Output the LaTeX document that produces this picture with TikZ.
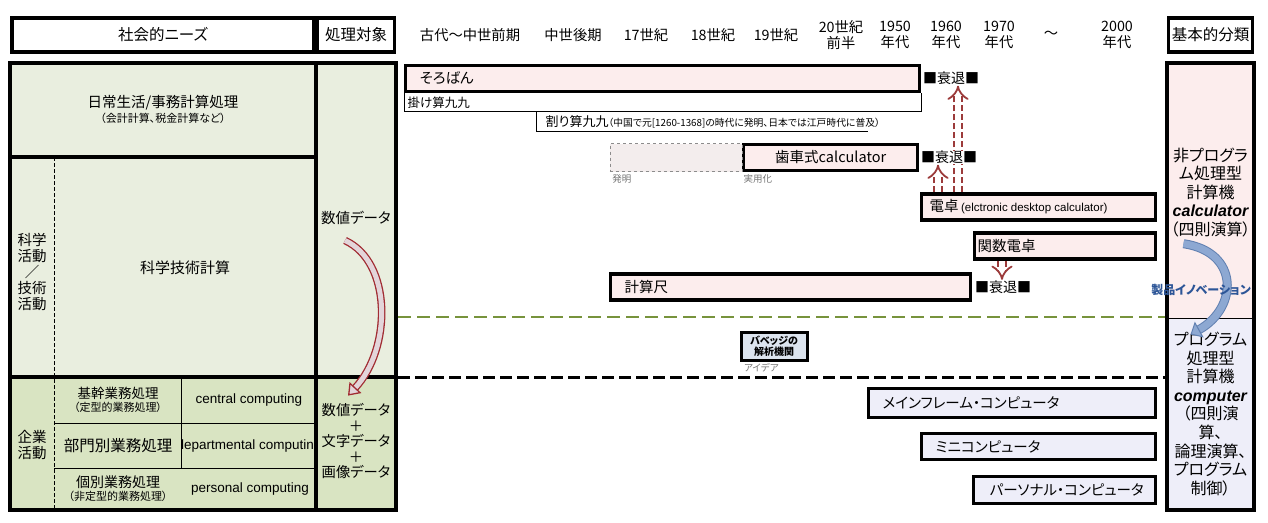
\documentclass[tikz,border=0pt]{standalone}
\usepackage{fontspec}
\setmainfont{Noto Sans CJK JP}[RawFeature=+palt]
\newfontfamily\latinfont{Liberation Sans}
\usepackage{tikz}
\usetikzlibrary{arrows.meta,positioning,calc,backgrounds}

\definecolor{tablelight}{HTML}{E9EEDF}
\definecolor{tablegreen}{HTML}{D9E4C2}
\definecolor{barpink}{HTML}{FCEDED}
\definecolor{barblue}{HTML}{EEEEF9}
\definecolor{ideafill}{HTML}{F3EDED}
\definecolor{babfill}{HTML}{DCE4EE}
\definecolor{declred}{HTML}{9C3B3B}
\definecolor{olive}{HTML}{77933C}
\definecolor{datared}{HTML}{A12B32}
\definecolor{datafill}{HTML}{E3D5DA}
\definecolor{innoblue}{HTML}{2C5597}
\definecolor{innofill}{HTML}{8DA8D2}

\begin{document}
\begin{tikzpicture}[x=1pt, y=-1pt,
      node distance=2pt,
      every node/.style={inner sep=1.5pt},
      headbox/.style={rectangle, draw, line width=3.4pt, fill=white, minimum height=34pt,
            font=\fontsize{15.5}{17}\selectfont},
      era/.style={align=center, font=\fontsize{14.3}{16}\selectfont},
      bar/.style={rectangle, draw, line width=3.4pt, fill=barpink, minimum height=26pt,
            inner sep=0pt, anchor=west, font=\fontsize{14.5}{16}\selectfont},
      pcbar/.style={bar, fill=barblue},
      bartext/.style={font=\fontsize{14.5}{16}\selectfont},
      decline/.style={inner sep=0.5pt, fill=white, font=\fontsize{14}{15}\selectfont},
      smallnote/.style={text=black!55, font=\fontsize{9.5}{10}\selectfont},
      cell/.style={align=center, font=\fontsize{14.5}{16}\selectfont},
      subtext/.style={inner sep=0pt, font=\fontsize{11}{12}\selectfont},
      eng/.style={font=\latinfont\fontsize{13.5}{15}\selectfont},
      thickline/.style={line width=3.4pt},
      decl/.style={draw=declred, line width=1.8pt, double=white, double distance=5.5pt,
            dash pattern=on 6pt off 3pt, -{Implies}},
      dataarrow/.style={draw=datared, line width=1.3pt, double=datafill, double distance=5pt,
            -{Triangle[length=11pt, width=16pt, fill=datafill, line width=1.3pt]}},
      innoarrow/.style={draw=innoblue!75, line width=1pt, double=innofill, double distance=7pt,
            -{Triangle[length=10pt, width=18pt, fill=innofill, line width=1pt]}}
]
      \useasboundingbox (0,0) rectangle (1268,522);

      % header
      \node[headbox, minimum width=302pt] (needs) at (163,35) {社会的ニーズ};
      \node[headbox, minimum width=77pt] (target) at (356,35) {処理対象};
      \node[headbox, minimum width=84pt] (basic) at (1210.5,35) {基本的分類};
      \node[era] (e1) at (470,35) {古代〜中世前期};
      \node[era] (e2) at (573,35) {中世後期};
      \node[era] (e3) at (646,35) {17世紀};
      \node[era] (e4) at (713,35) {18世紀};
      \node[era] (e5) at (776,35) {19世紀};
      \node[era] (e6) at (841,35) {20世紀\\前半};
      \node[era] (e7) at (895,35) {1950\\年代};
      \node[era] (e8) at (946,35) {1960\\年代};
      \node[era] (e9) at (999,35) {1970\\年代};
      \node[era] (e10) at (1051,35) {〜};
      \node[era] (e11) at (1117,35) {2000\\年代};

      % left table
      \fill[tablelight] (10,63) rectangle (396,377);
      \fill[tablegreen] (10,377) rectangle (396,510);
      \draw[dash pattern=on 4pt off 2pt] (54,157) -- (54,510);
      \draw (54,423) -- (316,423) (54,468) -- (316,468) (181,377) -- (181,468);
      \draw[thickline] (10,63) rectangle (396,510);
      \draw[thickline] (316,63) -- (316,510) (10,157) -- (316,157) (10,377) -- (396,377);

      \node[cell] (daily) at (163,103) {日常生活/事務計算処理};
      \node[subtext, below=1pt of daily] (dailysub) {（会計計算、税金計算など）};
      \node[cell, font=\fontsize{14.5}{16}\selectfont] (sciact) at (32,272) {科学\\活動\\／\\技術\\活動};
      \node[cell, font=\fontsize{15}{16}\selectfont] (scicalc) at (185,268) {科学技術計算};
      \node[cell] (corp) at (32,445) {企業\\活動};
      \node[cell, font=\fontsize{13.5}{14}\selectfont] (core) at (118,393) {基幹業務処理};
      \node[subtext, below=1pt of core] (coresub) {（定型的業務処理）};
      \node[cell, font=\fontsize{15.5}{16}\selectfont] (dept) at (118,446) {部門別業務処理};
      \node[cell, font=\fontsize{14}{15}\selectfont] (indiv) at (118,482) {個別業務処理};
      \node[subtext, below=1pt of indiv] (indivsub) {（非定型的業務処理）};
      \node[eng] (central) at (249,400) {central computing};
      \begin{scope}
            \clip (181,423) rectangle (316,468);
            \node[eng] (deptcomp) at (249,446) {departmental computing};
      \end{scope}
      \node[eng] (personal) at (250,489) {personal computing};
      \node[cell] (num) at (356,218) {数値データ};
      \node[cell, font=\fontsize{14.3}{15.5}\selectfont] (datamix) at (356,441) {数値データ\\＋\\文字データ\\＋\\画像データ};

      % timeline
      \node[bar, minimum width=514pt] (soroban) at (404,78.5) {};
      \node[bartext, right=14pt of soroban.west] (sorotext) {そろばん};
      \node[decline, right=1pt of soroban] (sorotai) {■衰退■};
      \draw (404,93) -- (404,111) -- (921,111) -- (921,93);
      \node[anchor=west, font=\fontsize{12.5}{13}\selectfont] (kakezan) at (406,102.5) {掛け算九九};
      \draw (536,111) -- (536,131) -- (868,131);
      \node[anchor=west] (warizan) at (544,121.5) {{\fontsize{13}{14}\selectfont 割り算九九}{\fontsize{9.8}{11}\selectfont （中国で元[1260-1368]の時代に発明、日本では江戸時代に普及）}};

      \node[bar, minimum width=174pt] (gears) at (742,157.5) {歯車式calculator};
      \node[rectangle, draw=black!45, dashed, fill=ideafill, minimum width=132pt,
            minimum height=28pt, left=0pt of gears] (gearidea) {};
      \node[smallnote, below right=1pt and 1pt of gearidea.south west] (invent) {発明};
      \node[smallnote, below right=1pt and 0pt of gears.south west] (practical) {実用化};
      \node[decline, right=1pt of gears] (gearstai) {■衰退■};

      \node[bar, minimum width=234pt] (dentaku) at (920,207) {};
      \node[bartext, right=8pt of dentaku.west] (dentakutext) {電卓\,{\latinfont\fontsize{11.5}{12}\selectfont (elctronic desktop calculator)}};
      \node[bar, minimum width=181pt] (kansu) at (973,246) {};
      \node[bartext, right=3pt of kansu.west] (kansutext) {関数電卓};
      \node[bar, minimum width=360pt] (keisan) at (609,287) {};
      \node[bartext, right=14pt of keisan.west] (keisantext) {計算尺};
      \node[decline, right=2pt of keisan] (keisantai) {■衰退■};

      \coordinate (d1) at ($(dentaku.north west)+(38,0)$);
      \coordinate (d2) at ($(dentaku.north west)+(18,0)$);
      \coordinate (d3) at ($(kansu.south west)+(29,0)$);
      \begin{pgfonlayer}{background}
            \draw[decl] (d1) -- (d1 |- sorotai.south);
            \draw[decl] (d2) -- (d2 |- gearstai.south);
            \draw[decl] (d3) -- (d3 |- keisantai.north);
      \end{pgfonlayer}

      \draw[olive, line width=2.6pt, dash pattern=on 13pt off 6pt] (398,317) -- (1165,317);
      \draw[line width=3pt, dash pattern=on 12pt off 5pt] (398,377) -- (1165,377);

      \node[rectangle, draw, line width=3pt, fill=babfill, minimum width=66pt, minimum height=28pt,
            align=center, inner sep=1pt, font=\bfseries\fontsize{10}{11}\selectfont] (babbage) at (774,346) {バベッジの\\解析機関};
      \node[smallnote, below right=0pt and 3pt of babbage.south west] (idea) {アイデア};

      \node[pcbar, minimum width=287pt, minimum height=29pt] (mainframe) at (867,403) {};
      \node[bartext, right=14pt of mainframe.west] (mainframetext) {メインフレーム・コンピュータ};
      \node[pcbar, minimum width=234pt] (mini) at (920,446.5) {};
      \node[bartext, right=14pt of mini.west] (minitext) {ミニコンピュータ};
      \node[pcbar, minimum width=182pt, minimum height=27pt] (pc) at (972,490) {};
      \node[bartext, right=16pt of pc.west] (pctext) {パーソナル・コンピュータ};

      % right column
      \fill[barpink] (1167,63) rectangle (1254,318);
      \fill[barblue] (1167,318) rectangle (1254,510);
      \draw (1167,318) -- (1254,318);
      \draw[thickline] (1167,63) rectangle (1254,510);
      \node[cell, font=\fontsize{16}{18.5}\selectfont] (noprog) at (1210.5,192.5) {非プログラ\\ム処理型\\計算機\\{\latinfont\bfseries\itshape calculator}\\（四則演算）};
      \node[cell, font=\fontsize{16}{18.6}\selectfont] (prog) at (1210.5,414) {プログラム\\処理型\\計算機\\{\latinfont\bfseries\itshape computer}\\（四則演\\算、\\論理演算、\\プログラム\\制御）};

      % curved arrows
      \draw[dataarrow] ([shift={(-11,14)}]num.south) .. controls (392,262) and (392,348) .. ([shift={(-8,-6)}]datamix.north);
      \draw[innoarrow] ([shift={(-27,5)}]noprog.south) .. controls (1240,252) and (1238,308) .. ([shift={(-20,4)}]prog.north);
      \node[text=innoblue, font=\bfseries\fontsize{12}{13}\selectfont] (inno) at (1201,290) {製品イノベーション};
\end{tikzpicture}
\end{document}
